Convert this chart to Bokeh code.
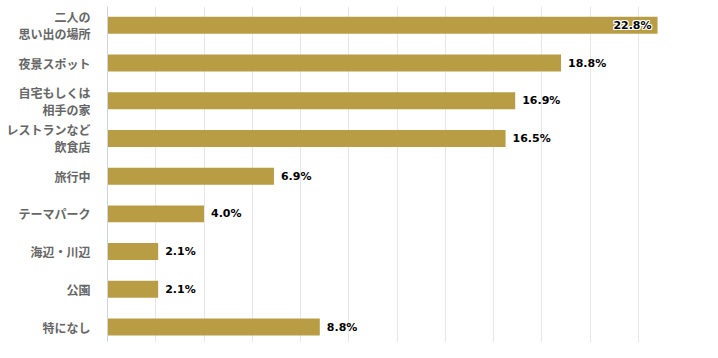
from bokeh.plotting import figure
from bokeh.models import Range1d, FixedTicker, ColumnDataSource
from bokeh.embed import file_html
from bokeh.resources import INLINE
from bokeh.core.properties import value

categories = ["二人の\n思い出の場所", "夜景スポット", "自宅もしくは\n相手の家", "レストランなど\n飲食店",
              "旅行中", "テーマパーク", "海辺・川辺", "公園", "特になし"]
values = [22.8, 18.8, 16.9, 16.5, 6.9, 4.0, 2.1, 2.1, 8.8]
x_ticks = [0, 2, 4, 6, 8, 10, 12, 14, 16, 18, 20, 22, 24]

BAR = "#b89d45"
idx = list(range(len(categories)))

p = figure(width=702, height=342, output_backend="svg", toolbar_location=None,
           x_range=Range1d(0, 24), y_range=Range1d(8.41, -0.4985),
           min_border_left=107, min_border_right=16, min_border_top=6, min_border_bottom=0)
p.outline_line_color = None
p.background_fill_color = "white"

p.hbar(y=idx, right=values, left=0, height=0.45, color=BAR, line_color=None)

labels = [f"{v:.1f}%" for v in values]
inside = [v > 20 for v in values]
src_out = ColumnDataSource(dict(x=[v for v, i in zip(values, inside) if not i],
                                y=[y for y, i in zip(idx, inside) if not i],
                                t=[l for l, i in zip(labels, inside) if not i]))
src_in = ColumnDataSource(dict(x=[v for v, i in zip(values, inside) if i],
                               y=[y for y, i in zip(idx, inside) if i],
                               t=[l for l, i in zip(labels, inside) if i]))
p.text(x="x", y="y", text="t", source=src_out, x_offset=7, text_align="left", text_baseline="middle",
       text_font=value("DejaVu Sans"), text_font_style="bold", text_font_size="11px", text_color="black")
for dx, dy in [(-1, 0), (1, 0), (0, -1), (0, 1), (-1, -1), (1, 1), (-1, 1), (1, -1)]:
    p.text(x="x", y="y", text="t", source=src_in, x_offset=-6 + dx, y_offset=dy, text_align="right",
           text_baseline="middle", text_font=value("DejaVu Sans"), text_font_style="bold",
           text_font_size="11px", text_color="white")
p.text(x="x", y="y", text="t", source=src_in, x_offset=-6, text_align="right", text_baseline="middle",
       text_font=value("DejaVu Sans"), text_font_style="bold", text_font_size="11px", text_color="black")

p.xaxis.visible = False
p.xgrid.ticker = FixedTicker(ticks=x_ticks)
p.xgrid.grid_line_color = "#e6e6e6"
p.ygrid.grid_line_color = None

p.yaxis.ticker = FixedTicker(ticks=idx)
p.yaxis.major_label_overrides = {i: c for i, c in enumerate(categories)}
p.yaxis.major_tick_line_color = None
p.yaxis.minor_tick_line_color = None
p.yaxis.axis_line_color = "#ccd6eb"
p.yaxis.major_label_standoff = 11
p.yaxis.major_label_text_font = "Noto Sans CJK JP"
p.yaxis.major_label_text_font_style = "bold"
p.yaxis.major_label_text_font_size = "12px"
p.yaxis.major_label_text_color = "#666666"
p.yaxis.major_label_text_line_height = 1.0

open("out.html", "w").write(file_html(p, INLINE))
